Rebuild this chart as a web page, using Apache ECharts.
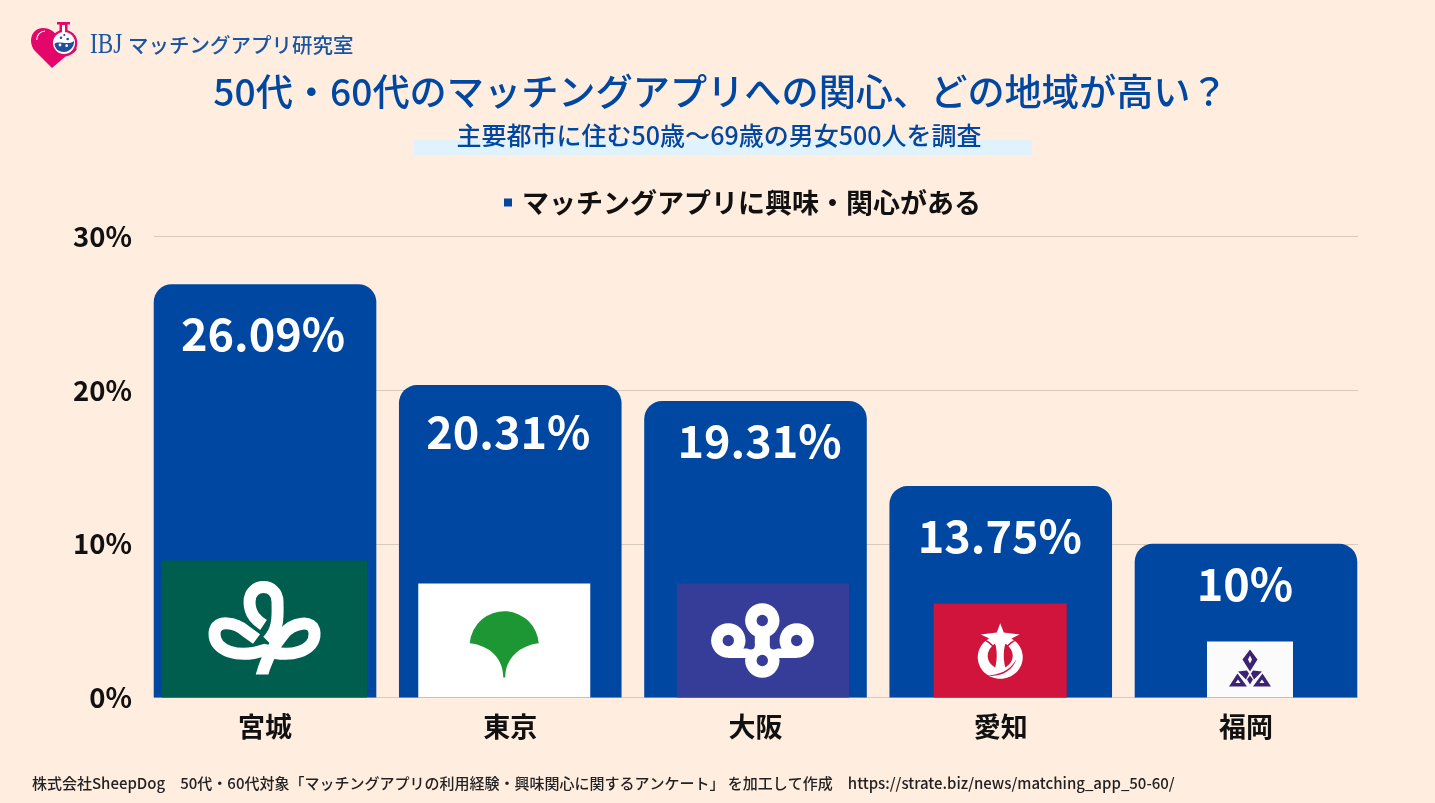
<!DOCTYPE html>
<html>
<head>
<meta charset="utf-8">
<title>50代・60代のマッチングアプリへの関心</title>
<style>
html, body { margin: 0; padding: 0; background: #ffeee0; }
#chart { width: 1435px; height: 803px; }
</style>
<script src="https://cdn.jsdelivr.net/npm/echarts@6/dist/echarts.min.js"></script>
</head>
<body>
<div id="chart"></div>
<script>
var categories = ['宮城', '東京', '大阪', '愛知', '福岡'];
// 宮城 is drawn taller in the picture than its printed label says
var barValues = [26.9, 20.33, 19.3, 13.76, 10];
var barLabels = ['26.09%', '20.31%', '19.31%', '13.75%', '10%'];
var yTicks = { min: 0, max: 30, interval: 10 };

var seriesName = 'マッチングアプリに興味・関心がある';
var font = '"Noto Sans CJK JP", "Noto Sans", sans-serif';
var blue = '#0047a1';

// label nudges and flag boxes, in pixels
var labelOffsets = [[-2, 0], [-2, -3], [4, -10], [-1, 0], [-1, -9]];
var flags = [
    { dx: -0.5, w: 205, h: 137, bg: '#005e4e', draw: miyagi },
    { dx: -6, w: 172, h: 114, bg: '#ffffff', draw: tokyo },
    { dx: 7.5, w: 172, h: 114, bg: '#353d98', draw: osaka },
    { dx: -0.5, w: 133, h: 94, bg: '#d0143c', draw: aichi },
    { dx: 4, w: 86, h: 56, bg: '#fbfbfb', draw: fukuoka }
];

function miyagi(bg) {
    var line = { fill: 'none', stroke: '#fff', lineWidth: 12 };
    return [
        { type: 'path', shape: { pathData: 'M-4,52 C0,32 8,18 19,5 C28,-6 49,-11 50,4 C51,22 26,30 0,21 C-26,30 -51,22 -50,4 C-49,-11 -28,-6 -19,2 L-8,10' }, style: line },
        { type: 'path', shape: { pathData: 'M3,12 C15,0 13,-15 13,-27 C13,-47 -15,-47 -15,-27 C-15,-14 -7,-8 -1,-4' }, style: line },
        // flat cut at the foot of the stem
        { type: 'rect', shape: { x: -16, y: 45.5, width: 30, height: 12 }, style: { fill: bg } }
    ];
}

function tokyo(bg) {
    return [{
        type: 'path',
        shape: { pathData: 'M-34.5,2.7 A34.6,34.6 0 0 1 34.5,2.7 C15,5 1,18 1,37 L-1,37 C-1,18 -14,5 -34.5,2.7 Z' },
        style: { fill: '#1d9733' }
    }];
}

function osaka(bg) {
    var lobes = [[-0.7, -20], [-34.7, 0], [33.7, 0], [-0.7, 20]];
    var notches = [[-12.2, 5], [10.8, 5]];
    var out = [];
    lobes.forEach(function (p) {
        out.push({ type: 'circle', shape: { cx: p[0], cy: p[1], r: 17.2 }, style: { fill: '#fff' } });
    });
    out.push({ type: 'rect', shape: { x: -34.7, y: 8, width: 68.4, height: 9.5 }, style: { fill: '#fff' } });
    out.push({ type: 'rect', shape: { x: -8.2, y: -12, width: 15, height: 24 }, style: { fill: '#fff' } });
    notches.forEach(function (p) {
        out.push({ type: 'circle', shape: { cx: p[0], cy: p[1], r: 4 }, style: { fill: bg } });
    });
    lobes.forEach(function (p) {
        out.push({ type: 'circle', shape: { cx: p[0], cy: p[1], r: 5.7 }, style: { fill: bg } });
    });
    return out;
}

function aichi(bg) {
    return [
        { type: 'ellipse', shape: { cx: 0, cy: 6.7, rx: 22.5, ry: 21.5 }, style: { fill: '#fff' } },
        { type: 'path', shape: { pathData: 'M-5,-7 C-15,0 -15,11 -5,17 C-3,8 -3,2 -5,-7 Z M5,-7 C15,0 15,11 5,17 C3,8 3,2 5,-7 Z' }, style: { fill: bg } },
        { type: 'path', shape: { pathData: 'M-22,-13 C-12,-10 -7,-6 -4.5,0 M22,-13 C12,-10 7,-6 4.5,0' }, style: { fill: 'none', stroke: bg, lineWidth: 1.5 } },
        { type: 'path', shape: { pathData: 'M0,-27.3 L3.5,-18 L19.5,-16 C12,-13 6,-9 3,-3 L-3,-3 C-6,-9 -12,-13 -19.5,-16 L-3.5,-18 Z' }, style: { fill: '#fff' } },
        { type: 'path', shape: { pathData: 'M-14,25 C-2,25 10,20 16,9 C12,21 0,27 -14,25 Z' }, style: { fill: bg } }
    ];
}

function fukuoka(bg) {
    var purple = '#3b2272';
    return [
        { type: 'path', shape: { pathData: 'M0,-20 L7.5,-10 L0,2 L-7.5,-10 Z M-12,2 L-3,1 L-1,4 L-4,10 Z M12,2 L3,1 L1,4 L4,10 Z M-12.5,4 L-3,17 L-21,17 Z M12.5,4 L3,17 L21,17 Z M0,6 L3,10 L0,15 L-3,10 Z' }, style: { fill: purple } },
        { type: 'path', shape: { pathData: 'M0,-14 L2,-10 L0,-6 L-2,-10 Z M-12,10 L-9.5,13.5 L-14.5,13.5 Z M12,10 L9.5,13.5 L14.5,13.5 Z' }, style: { fill: bg } }
    ];
}

function logo() {
    var pink = '#e3066b';
    var navy = '#1f4e9c';
    var dots = [[61, 37.7, navy, 1.3], [64.3, 35, navy, 1.1], [67.7, 39, navy, 1.3], [60, 45, '#fff', 1.4], [66.7, 45.7, '#fff', 1.4]];
    var out = [
        { type: 'path', shape: { pathData: 'M52,68 L36,52 C27,43 31,28 43,28 C49,28 53,31 56,34 L77,49 C74,54 70,54 66,56 Z' }, style: { fill: pink } },
        { type: 'circle', shape: { cx: 64, cy: 43, r: 13.3 }, style: { fill: pink } },
        { type: 'path', shape: { pathData: 'M57,22 H70 V24.5 H67.5 V32 H59.5 V24.5 H57 Z' }, style: { fill: pink } },
        { type: 'circle', shape: { cx: 64, cy: 43, r: 11 }, style: { fill: '#fff' } },
        { type: 'rect', shape: { x: 62, y: 25, width: 3, height: 9 }, style: { fill: '#fff' } },
        { type: 'path', shape: { pathData: 'M54.5,44 C58,40 68,46 74,41 C74.5,46 70,52 64,52 C59,52 55,49 54.5,44 Z' }, style: { fill: navy } },
        { type: 'path', shape: { pathData: 'M36.7,40 C37,34 41,31.5 45,31' }, style: { fill: 'none', stroke: '#fff', lineWidth: 1.2 } }
    ];
    dots.forEach(function (d) {
        out.push({ type: 'circle', shape: { cx: d[0], cy: d[1], r: d[3] }, style: { fill: d[2] } });
    });
    return out;
}

var myChart = echarts.init(document.getElementById('chart'));

var option = {
    animation: false,
    backgroundColor: '#ffeee0',
    textStyle: { fontFamily: font },
    title: [
        {
            text: '50代・60代のマッチングアプリへの関心、どの地域が高い？',
            left: 720.5, top: 92, textAlign: 'center', textVerticalAlign: 'middle', padding: 0,
            textStyle: { color: blue, fontSize: 37.2, fontWeight: 500, fontFamily: font }
        },
        {
            text: '主要都市に住む50歳〜69歳の男女500人を調査',
            left: 719, top: 135, textAlign: 'center', textVerticalAlign: 'middle', padding: 0,
            textStyle: { color: blue, fontSize: 25, fontWeight: 500, fontFamily: font }
        },
        {
            text: '株式会社SheepDog　50代・60代対象「マッチングアプリの利用経験・興味関心に関するアンケート」 を加工して作成　https://strate.biz/news/matching_app_50-60/',
            left: 32, top: 783, textVerticalAlign: 'middle', padding: 0,
            textStyle: { color: '#222222', fontSize: 15, fontWeight: 500, fontFamily: font }
        }
    ],
    legend: {
        data: [{ name: seriesName, icon: 'rect' }],
        left: 499, top: 184,
        itemWidth: 8, itemHeight: 8,
        selectedMode: false,
        textStyle: { color: '#111111', fontSize: 27, fontWeight: 'bold', fontFamily: font, padding: [0, 0, 0, 5] }
    },
    graphic: [
        { type: 'rect', z: 0, shape: { x: 414, y: 140, width: 618, height: 15 }, style: { fill: '#e0f3fd' } },
        { type: 'text', z: 1, x: 90, y: 45, scaleX: 0.8, style: { x: 0, y: 0, text: 'IBJ', fill: '#1a55a4', fontSize: 29, fontFamily: '"Liberation Serif", serif', verticalAlign: 'middle' } },
        { type: 'text', z: 1, style: { x: 128, y: 45, text: 'マッチングアプリ研究室', fill: '#1a55a4', fontSize: 20.5, fontWeight: 500, fontFamily: font, verticalAlign: 'middle' } }
    ],
    grid: [
        { left: 154, width: 1204, top: 236.5, height: 461 },
        { left: 142.4, width: 1226.2, top: 236.5, height: 461 }
    ],
    xAxis: [
        { gridIndex: 0, type: 'category', data: categories, show: false },
        {
            gridIndex: 1, type: 'category', data: categories,
            axisLine: { show: false }, axisTick: { show: false },
            axisLabel: { margin: 16, color: '#111111', fontSize: 27, fontWeight: 'bold', fontFamily: font }
        }
    ],
    yAxis: [
        {
            gridIndex: 0, type: 'value', min: yTicks.min, max: yTicks.max, interval: yTicks.interval,
            axisLine: { show: false }, axisTick: { show: false },
            axisLabel: { formatter: '{value}%', margin: 22, color: '#111111', fontSize: 27.5, fontWeight: 'bold', fontFamily: font },
            splitLine: { lineStyle: { color: '#d8cabd', width: 1 } }
        },
        { gridIndex: 1, type: 'value', min: yTicks.min, max: yTicks.max, interval: yTicks.interval, show: false }
    ],
    series: [
        {
            name: seriesName,
            type: 'bar',
            xAxisIndex: 1, yAxisIndex: 1,
            barWidth: 222.6,
            itemStyle: { color: blue, borderRadius: [18, 18, 0, 0] },
            data: barValues.map(function (v, i) {
                return {
                    value: v,
                    label: { offset: labelOffsets[i] }
                };
            }),
            label: {
                show: true,
                position: 'insideTop',
                distance: 27,
                color: '#ffffff',
                fontSize: 45,
                fontWeight: 'bold',
                fontFamily: font,
                formatter: function (params) {
                    return barLabels[params.dataIndex];
                }
            },
            z: 2
        },
        {
            type: 'custom',
            xAxisIndex: 1, yAxisIndex: 1,
            data: categories.map(function (c, i) { return i; }),
            z: 3,
            silent: true,
            renderItem: function (params, api) {
                var f = flags[params.dataIndex];
                var base = api.coord([params.dataIndex, 0]);
                var cx = base[0] + f.dx;
                var top = base[1] - f.h;
                return {
                    type: 'group',
                    children: [
                        { type: 'rect', shape: { x: cx - f.w / 2, y: top, width: f.w, height: f.h }, style: { fill: f.bg } },
                        { type: 'group', x: cx, y: top + f.h / 2, children: f.draw(f.bg) }
                    ]
                };
            }
        },
        {
            // logo mark, has no data behind it
            type: 'custom',
            coordinateSystem: 'none',
            data: [0],
            silent: true,
            renderItem: function () {
                return { type: 'group', children: logo() };
            }
        }
    ]
};

myChart.setOption(option);
</script>
</body>
</html>
